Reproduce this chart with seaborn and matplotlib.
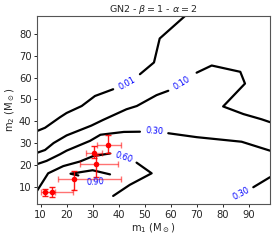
import numpy as np
import pandas as pd
import matplotlib
matplotlib.use("Agg")
import matplotlib.pyplot as plt
import seaborn as sns

# ---- contour curves (m1, m2); each contour split at its label gap
c001_m1 = [[8.6, 11.7, 17.4, 20.0, 25.8, 30.9, 37.9], [48.2, 53.6, 55.8, 65.5]]
c001_m2 = [[35.5, 37.0, 41.8, 43.8, 47.0, 51.6, 54.7], [61.6, 67.0, 78.0, 88.3]]

c010_m1 = [[8.6, 11.7, 15.0, 20.0, 29.5, 34.0, 43.0, 47.0, 54.6, 59.1],
           [70.0, 75.8, 86.8, 88.6, 80.2, 88.0, 95.0, 98.2]]
c010_m2 = [[25.5, 26.8, 30.0, 33.5, 38.0, 40.6, 45.5, 47.0, 52.0, 54.0],
           [62.3, 65.6, 62.7, 57.3, 46.8, 43.3, 40.9, 39.6]]

c030a_m1 = [[8.6, 12.3, 17.4, 20.0, 29.0, 33.0, 42.0, 48.2], [59.1, 70.0, 87.3, 98.2]]
c030a_m2 = [[20.3, 21.8, 24.8, 26.5, 31.0, 33.8, 35.1, 35.2], [34.5, 32.7, 30.6, 26.5]]

c030b_m1 = [[91.8, 98.2]]
c030b_m2 = [[9.7, 14.3]]

c060_m1 = [[8.6, 12.9, 18.7, 25.1, 30.2, 36.7], [46.9, 52.7, 44.3, 37.9]]
c060_m2 = [[8.0, 16.1, 19.4, 21.5, 24.0, 25.2], [21.0, 16.1, 10.8, 5.7]]

c090_m1 = [[24.5, 21.5, 30.0, 36.7]]
c090_m2 = [[15.1, 15.9, 17.5, 15.6]]

contours = [(c001_m1, c001_m2), (c010_m1, c010_m2), (c030a_m1, c030a_m2),
            (c030b_m1, c030b_m2), (c060_m1, c060_m2), (c090_m1, c090_m2)]

# ---- contour labels
label_text = ["0.01", "0.10", "0.30", "0.30", "0.60", "0.90"]
label_m1 = [43.3, 64.3, 53.8, 87.0, 42.0, 31.0]
label_m2 = [57.5, 57.3, 35.6, 6.9, 23.4, 12.2]
label_rot = [29, 32, -4, 28, -18, 3]

# ---- events with asymmetric errors
ev_m1 = [36.0, 30.6, 31.2, 23.0, 14.2, 11.8]
ev_m1_lo = [4.2, 3.1, 6.1, 6.2, 2.4, 1.7]
ev_m1_hi = [4.8, 3.0, 8.6, 17.8, 8.2, 3.8]
ev_m2 = [29.3, 25.6, 20.2, 13.4, 7.5, 7.3]
ev_m2_lo = [4.0, 2.7, 5.6, 4.9, 2.1, 1.5]
ev_m2_hi = [4.3, 3.0, 4.3, 3.9, 2.5, 1.7]

x_ticks = [10, 20, 30, 40, 50, 60, 70, 80, 90]
y_ticks = [10, 20, 30, 40, 50, 60, 70, 80]

sns.set_style("ticks")
plt.rcParams['font.family'] = ['DejaVu Sans']
plt.rcParams['mathtext.fontset'] = 'dejavusans'

fig = plt.figure(figsize=(2.78, 2.40), dpi=100)
ax = fig.add_axes([0.133, 0.15, 0.838, 0.783])

rows = []
seg_id = 0
for cm1, cm2 in contours:
    for s1, s2 in zip(cm1, cm2):
        for a, b in zip(s1, s2):
            rows.append((seg_id, a, b))
        seg_id += 1
df = pd.DataFrame(rows, columns=["seg", "m1", "m2"])
sns.lineplot(data=df, x="m1", y="m2", units="seg", estimator=None, sort=False,
             color="black", lw=1.6, legend=False, ax=ax)

for t, a, b, r in zip(label_text, label_m1, label_m2, label_rot):
    ax.text(a, b, t, color="blue", fontsize=5.9, rotation=r,
            ha="center", va="center", rotation_mode="anchor")

ax.errorbar(ev_m1, ev_m2, xerr=[ev_m1_lo, ev_m1_hi], fmt="none", ecolor="red",
            alpha=0.55, elinewidth=1.0, capsize=2.5, capthick=1.0)
ax.errorbar(ev_m1, ev_m2, yerr=[ev_m2_lo, ev_m2_hi], fmt="none", ecolor="red",
            alpha=0.9, elinewidth=1.0, capsize=2.5, capthick=1.0)
ev_df = pd.DataFrame({"m1": ev_m1, "m2": ev_m2})
sns.scatterplot(data=ev_df, x="m1", y="m2", color="red", s=16, edgecolor="red",
                linewidth=0, zorder=5, ax=ax)

ax.set_xlim(8.6, 98.2)
ax.set_ylim(2.0, 88.3)
ax.set_xticks(x_ticks)
ax.set_yticks(y_ticks)
ax.tick_params(labelsize=7.2, length=2.5, width=0.7, pad=1.5)
ax.set_xlabel(r"m$_1$ (M$_\odot$)", fontsize=7.2, labelpad=1)
ax.set_ylabel(r"m$_2$ (M$_\odot$)", fontsize=7.2, labelpad=1)
ax.set_title(r"GN2 - $\beta = 1$ - $\alpha = 2$", fontsize=6.8, pad=3)
for sp in ax.spines.values():
    sp.set_color("#555555")
    sp.set_linewidth(0.8)

fig.savefig("out.png", dpi=100)
